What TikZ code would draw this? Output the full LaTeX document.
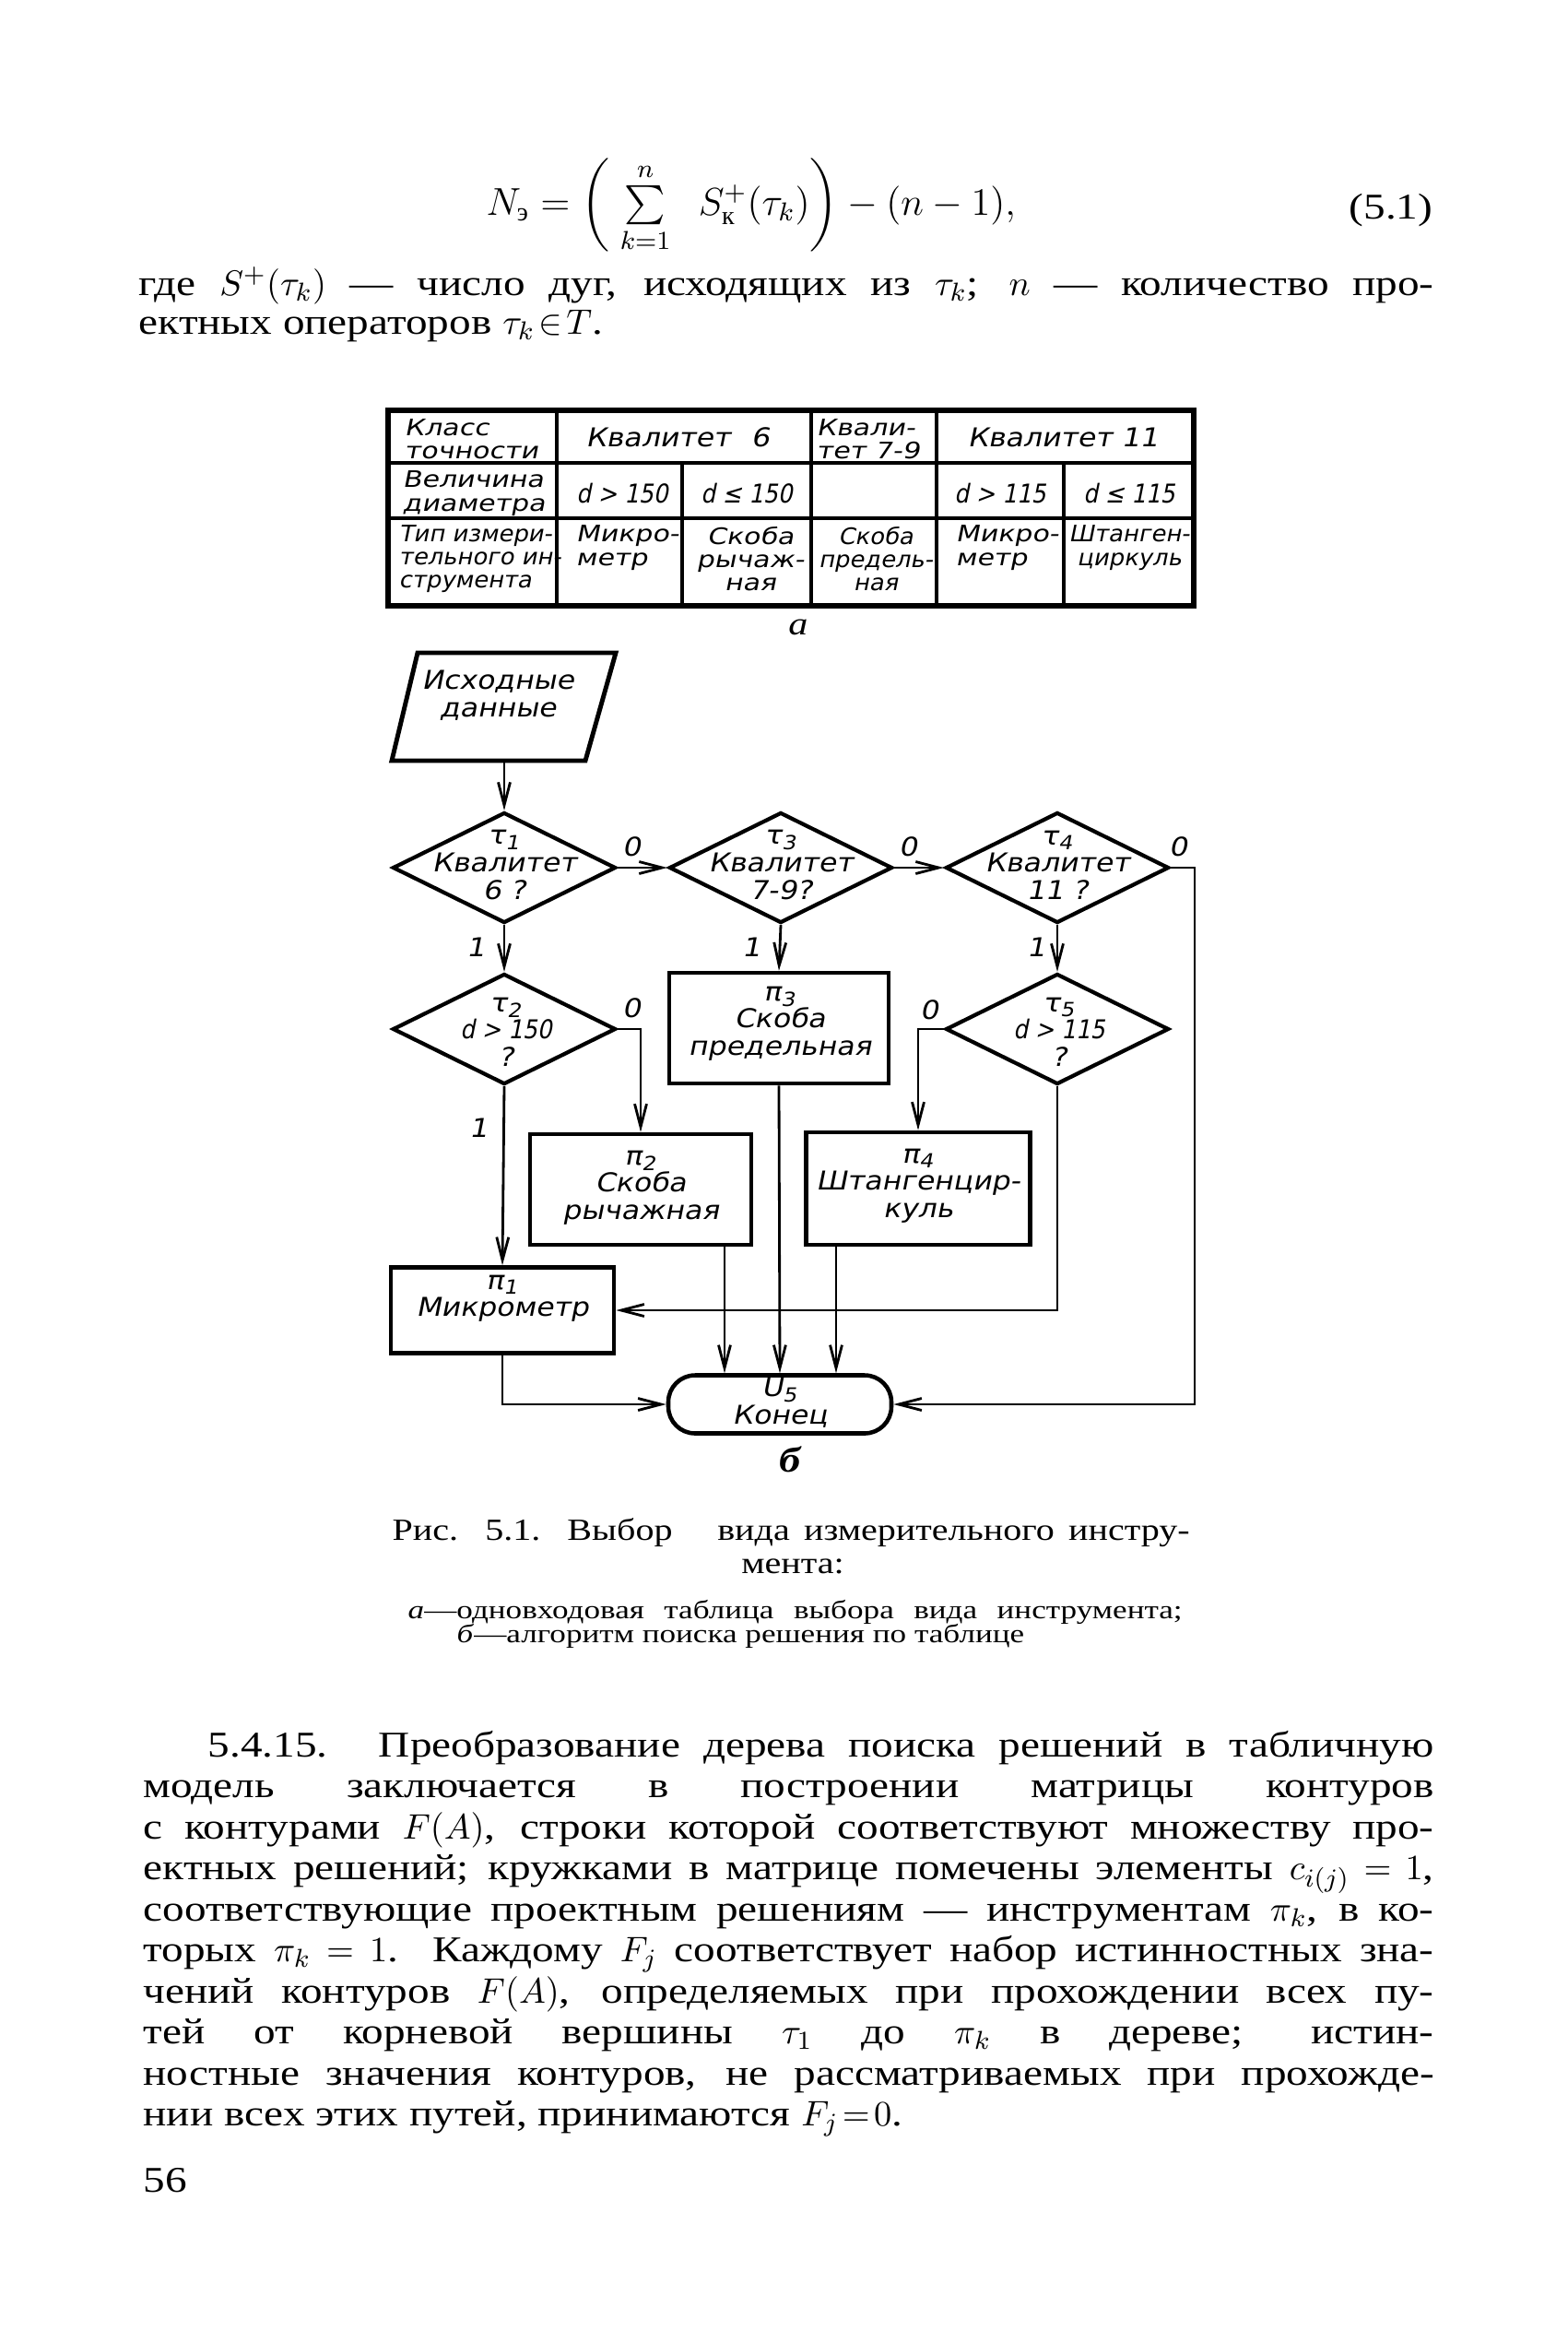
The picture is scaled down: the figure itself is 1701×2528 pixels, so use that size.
\documentclass[tikz,border=0pt]{standalone}
\usepackage{amsmath}
\usepackage{graphicx}
\usepackage{fontspec}
\setmainfont{Liberation Serif}
\newfontfamily\bodyf[FakeStretch=1.2]{Liberation Serif}
\newfontfamily\capf[FakeStretch=1.25]{Liberation Serif}
\newfontfamily\gostw[FakeSlant=0.2,FakeStretch=1.12]{DejaVu Sans}
\newfontfamily\gostt[FakeSlant=0.2,FakeStretch=1.22]{DejaVu Sans}
\newfontfamily\gostn[FakeSlant=0.2,FakeStretch=1.05]{DejaVu Sans}
\newfontfamily\gostc[FakeSlant=0.2,FakeStretch=0.88]{DejaVu Sans}
\usetikzlibrary{shapes.geometric,arrows.meta,calc}
\tikzset{
  bt/.style={anchor=base west, inner sep=0pt, font=\bodyf\fontsize{11.2}{13}\selectfont},
  captxt/.style={anchor=base west, inner sep=0pt, font=\bodyf\fontsize{9.5}{11}\selectfont},
  capsm/.style={anchor=base west, inner sep=0pt, font=\capf\fontsize{8}{9}\selectfont},
  gf/.style={font=\gostw\fontsize{8}{8.4}\selectfont, align=center, inner sep=0pt},
  tc/.style={font=\gostt\fontsize{7}{7.2}\selectfont, align=center, inner sep=0pt},
  tl/.style={font=\gostt\fontsize{7}{7.2}\selectfont, align=left, inner sep=0pt, anchor=west},
  tn/.style={font=\gostn\fontsize{7}{7.2}\selectfont, align=center, inner sep=0pt},
  tnl/.style={font=\gostn\fontsize{7}{7.2}\selectfont, align=left, inner sep=0pt, anchor=west},
  td/.style={font=\gostc\fontsize{8}{8.4}\selectfont, inner sep=0pt},
  blk/.style={draw, line width=1.3pt, rectangle, inner sep=0pt},
  dia/.style={draw, line width=1.2pt, diamond, inner sep=0pt, minimum width=24.2mm, minimum height=12mm},
  term/.style={draw, line width=1.3pt, rectangle, rounded corners=2.9mm, inner sep=0pt, minimum width=24.2mm, minimum height=6.3mm},
  arr/.style={line width=0.8pt, -{Straight Barb[length=2.5mm,width=1.3mm,line width=0.8pt]}},
}
\begin{document}
\begin{tikzpicture}[x=0.1mm,y=-0.1mm]
\fill[white] (0,0) rectangle (1701,2528);
\useasboundingbox (0,0) rectangle (1701,2528);

% ---------- formula and text above ----------
\node[anchor=base west, inner sep=0pt, font=\fontsize{12}{14}\selectfont] (fml) at (527,233)
  {$N_{\text{э}} =\biggl(\;\sum\limits_{k=1}^{n}\;\; S^{+}_{\text{к}}(\tau_k)\biggr)-(n-1),$};
\node[anchor=base east, inner sep=0pt, font=\bodyf\fontsize{11.2}{13}\selectfont] (fno) at (1555,237) {(5.1)};
\node[bt] (t01) at (150,320) {\makebox[140.5mm][s]{где $S^{+}(\tau_k)$ — число дуг, исходящих из $\tau_k$; $n$ — количество про-}};
\node[bt] (t02) at (150,362) {ектных операторов $\tau_k\!\in\! T$.};

% ---------- table ----------
\draw[line width=1.0pt] (421,502) -- (1295,502) (421,562) -- (1295,562)
  (604,445) -- (604,657) (880,445) -- (880,657) (1016,445) -- (1016,657)
  (740,502) -- (740,657) (1154,502) -- (1154,657);
\draw[line width=1.5pt] (421,445) rectangle (1295,657);

\node[tl] (c11) at (438,476) {Класс\\точности};
\node[gf] (c12) at (735,474) {Квалитет\hspace{0.8em}6};
\node[tl] (c14) at (885,476) {Квали-\\тет 7-9};
\node[gf] (c15) at (1153,474) {Квалитет 11};

\node[tl] (c21) at (436,535) {Величина\\диаметра};
\node[td] (c22) at (675,535) {d > 150};
\node[td] (c23) at (810,535) {d ≤ 150};
\node[td] (c25) at (1085,535) {d > 115};
\node[td] (c26) at (1225,535) {d ≤ 115};

\node[tnl] (c31) at (432,606) {Тип измери-\\тельного ин-\\струмента};
\node[tl] (c32) at (624,594) {Микро-\\метр};
\node[tc] (c33) at (814,606) {Скоба\\рычаж-\\ная};
\node[tn] (c34) at (950,606) {Скоба\\предель-\\ная};
\node[tl] (c35) at (1036,594) {Микро-\\метр};
\node[tn] (c36) at (1225,594) {Штанген-\\циркуль};

\node[inner sep=0pt, font=\bodyf\itshape\fontsize{10}{12}\selectfont] (lbla) at (866,680) {а};

% ---------- flowchart ----------
\draw[line width=1.4pt] (453,708) -- (668,708) -- (635,825) -- (425,825) -- cycle;
\node[gf] (partxt) at (540,754) {Исходные\\данные};
\coordinate (pin) at (547,825);

\node[dia] (t1) at (547,941) {};
\node[dia] (t3) at (847,941) {};
\node[dia] (t4) at (1147,941) {};
\node[dia] (t2) at (547,1116) {};
\node[dia] (t5) at (1147,1116) {};
\node[blk, minimum width=23.8mm, minimum height=12mm] (p3) at (845,1115) {};
\node[blk, minimum width=24mm, minimum height=12mm] (p2) at (695,1290) {};
\node[blk, minimum width=24.3mm, minimum height=12.2mm] (p4) at (996,1289) {};
\node[blk, minimum width=24.2mm, minimum height=9.3mm] (p1) at (545,1421) {};
\node[term] (en) at (846,1523) {};

\node[gf] (t1txt) at (547,938) {τ\textsubscript{1}\\Квалитет\\6 ?};
\node[gf] (t3txt) at (847,938) {τ\textsubscript{3}\\Квалитет\\7-9?};
\node[gf] (t4txt) at (1147,938) {τ\textsubscript{4}\\Квалитет\\11 ?};
\node[gf] (t2txt) at (549,1119) {τ\textsubscript{2}\\{\gostc d > 150}\\?};
\node[gf] (t5txt) at (1149,1119) {τ\textsubscript{5}\\{\gostc d > 115}\\?};
\node[gf] (p3txt) at (846,1110) {π\textsubscript{3}\\Скоба\\предельная};
\node[gf] (p2txt) at (695,1288) {π\textsubscript{2}\\Скоба\\рычажная};
\node[gf] (p4txt) at (996,1286) {π\textsubscript{4}\\Штангенцир-\\куль};
\node[gf] (p1txt) at (545,1408) {π\textsubscript{1}\\Микрометр};
\node[gf] (entxt) at (846,1521) {U\textsubscript{5}\\Конец};

% connectors
\coordinate (rx) at (1296,941);
\coordinate (e2) at ($(en.north)+(-60,0)$);
\coordinate (e4) at ($(en.north)+(61,0)$);
\draw[arr] (pin) -- (t1.north);
\draw[arr] (t1.east) -- (t3.west);
\draw[arr] (t3.east) -- (t4.west);
\draw[arr] (t4.east) -- (rx) |- (en.east);
\draw[arr] (t1.south) -- (t2.north);
\draw[arr] (t3.south) -- (p3.north);
\draw[arr] (t4.south) -- (t5.north);
\draw[arr] (t2.east) -| (p2.north);
\draw[arr] (t5.west) -| (p4.north);
\draw[arr] (t2.south) -- (p1.north);
\draw[arr] (t5.south) |- (p1.east);
\draw[arr] (e2 |- p2.south) -- (e2);
\draw[arr] (p3.south) -- (en.north);
\draw[arr] (e4 |- p4.south) -- (e4);
\draw[arr] (p1.south) |- (en.west);

% branch labels
\node[gf] (l1) at (685,918) {0};
\node[gf] (l2) at (985,918) {0};
\node[gf] (l3) at (1278,918) {0};
\node[gf] (l4) at (516,1027) {1};
\node[gf] (l5) at (815,1027) {1};
\node[gf] (l6) at (1124,1027) {1};
\node[gf] (l7) at (685,1093) {0};
\node[gf] (l8) at (1008,1095) {0};
\node[gf] (l9) at (519,1223) {1};

\node[inner sep=0pt, font=\bodyf\bfseries\itshape\fontsize{11}{12}\selectfont] (lblb) at (857,1583) {б};

% ---------- caption ----------
\node[captxt] (cp1) at (425,1670) {\makebox[86.5mm][s]{Рис. 5.1. Выбор\hspace{1em} вида измерительного инстру-}};
\node[anchor=base, inner sep=0pt, font=\bodyf\fontsize{9.5}{11}\selectfont] (cp2) at (860,1706) {мента:};
\node[capsm] (cp3) at (442,1755) {\makebox[84mm][s]{\textit{а}—одновходовая таблица выбора вида инструмента;}};
\node[capsm] (cp4) at (495,1781) {\textit{б}—алгоритм поиска решения по таблице};

% ---------- paragraph ----------
\node[bt] (b01) at (225,1905) {\makebox[133mm][s]{5.4.15. Преобразование дерева поиска решений в табличную}};
\node[bt] (b02) at (155,1949.5) {\makebox[140mm][s]{модель заключается в построении матрицы контуров}};
\node[bt] (b03) at (155,1994) {\makebox[140mm][s]{с контурами $F(A)$, строки которой соответствуют множеству про-}};
\node[bt] (b04) at (155,2038.5) {\makebox[140mm][s]{ектных решений; кружками в матрице помечены элементы $c_{i(j)}\!=\!1$,}};
\node[bt] (b05) at (155,2083) {\makebox[140mm][s]{соответствующие проектным решениям — инструментам $\pi_k$, в ко-}};
\node[bt] (b06) at (155,2127.5) {\makebox[140mm][s]{торых $\pi_k\!=\!1$. Каждому $F_j$ соответствует набор истинностных зна-}};
\node[bt] (b07) at (155,2172) {\makebox[140mm][s]{чений контуров $F(A)$, определяемых при прохождении всех пу-}};
\node[bt] (b08) at (155,2216.5) {\makebox[140mm][s]{тей от корневой вершины $\tau_1$ до $\pi_k$ в дереве; истин-}};
\node[bt] (b09) at (155,2261) {\makebox[140mm][s]{ностные значения контуров, не рассматриваемых при прохожде-}};
\node[bt] (b10) at (155,2305.5) {нии всех этих путей, принимаются $F_j\!=\!0$.};

\node[bt] (pg) at (155,2377) {56};
\end{tikzpicture}
\end{document}
